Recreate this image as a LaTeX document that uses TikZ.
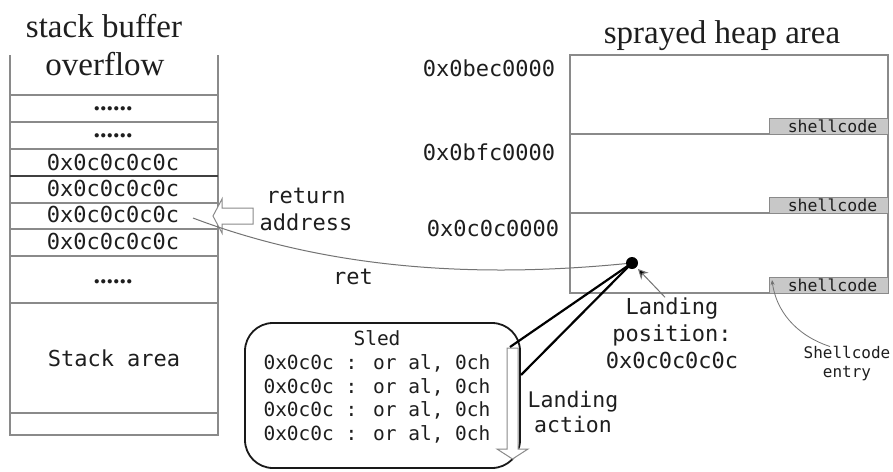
\documentclass[tikz,border=0pt]{standalone}
\usepackage{fontspec}
\setmainfont{Liberation Serif}
\newfontfamily\codefont{DejaVu Sans Mono}
\usetikzlibrary{arrows.meta}
\definecolor{ink}{HTML}{1E1E1E}
\definecolor{rule}{HTML}{8A8A8A}
\definecolor{codebg}{HTML}{C8C8C8}
\begin{document}
\begin{tikzpicture}[x=1pt,y=-1pt,
  every node/.style={inner sep=0pt, text=ink},
  titletext/.style={font=\fontsize{33}{38}\selectfont, anchor=base},
  dots/.style={font=\bfseries\fontsize{26}{30}\selectfont, anchor=base},
  mono/.style={font=\codefont\fontsize{22}{27}\selectfont, align=center},
  sledtext/.style={font=\codefont\fontsize{19.5}{23.7}\selectfont, align=center},
  smallmono/.style={font=\codefont\fontsize{16.5}{19}\selectfont, align=center},
  cell/.style={draw=rule, line width=1.1pt},
  hollow/.style={draw=rule, fill=white, line width=1pt, line join=miter},
  shellbox/.style={draw=rule, fill=codebg, line width=1pt, minimum width=119pt,
    minimum height=16pt, anchor=north west, smallmono},
  pointer/.style={draw=black, line width=2.2pt},
  thinlink/.style={draw=black!55, line width=1pt},
]
\useasboundingbox (0,0) rectangle (893,471);
\fill[white] (0,0) rectangle (893,471);

% ---------------- stack column ----------------
\node[titletext] (stitle1) at (104,37) {stack buffer};
\node[titletext] (stitle2) at (105,75) {overflow};
\draw[cell] (10,55) -- (10,435) -- (218,435) -- (218,55);
\foreach \y in {95,122,149,203,229,256,303,413} \draw[cell] (10,\y) -- (218,\y);
\draw[cell, draw=black!75, line width=1.4pt] (10,176) -- (218,176);

\node[dots] (row1) at (113,110) {......};
\node[dots] (row2) at (113,137) {......};
\node[mono] (row3) at (113,162) {0x0c0c0c0c};
\node[mono] (row4) at (113,188) {0x0c0c0c0c};
\node[mono] (row5) at (113,214) {0x0c0c0c0c};
\node[mono] (row6) at (113,241) {0x0c0c0c0c};
\node[dots] (row7) at (113,283) {......};
\node[mono] (stackarea) at (114,358) {Stack area};

% return address marker
\draw[hollow] (253,208) -- (222,208) -- (222,199) -- (213,216) -- (222,233)
  -- (222,224) -- (253,224) -- cycle;
\node[mono] (retaddr) at (306,209) {return\\address};
\node[mono] (retlabel) at (353,277) {ret};

% ---------------- sprayed heap ----------------
\node[titletext] (htitle) at (722,43) {sprayed heap area};
\draw[cell] (570,55) rectangle (888,293);
\draw[cell] (570,134) -- (888,134);
\draw[cell] (570,213) -- (888,213);
\node[shellbox] (sc1) at (769,118) {\hspace*{7pt}shellcode};
\node[shellbox] (sc2) at (769,197) {\hspace*{7pt}shellcode};
\node[shellbox] (sc3) at (769,277) {\hspace*{7pt}shellcode};

\node[mono] (addr1) at (489,68) {0x0bec0000};
\node[mono] (addr2) at (489,152) {0x0bfc0000};
\node[mono] (addr3) at (493,228) {0x0c0c0000};

% landing point and the return jump
\node[circle, fill=black, minimum size=12pt] (landdot) at (632,263) {};
\coordinate (retstart) at (193,218);
\draw[thinlink] (retstart) .. controls (343,275) and (500,276) .. (landdot);

\node[mono] (landpos) at (672,333) {Landing\\position:\\0x0c0c0c0c};
\draw[thinlink, -{Stealth[length=10pt, width=10pt, fill=black]}]
  ([xshift=-7pt]landpos.north) -- ([shift={(6,6)}]landdot.center);

\node[smallmono, font=\codefont\fontsize{16}{19}\selectfont] (entry) at (847,364) {Shellcode\\entry};
\coordinate (entrytip) at ([shift={(3,3)}]sc3.north west);
\draw[thinlink, line width=0.8pt, -{Stealth[length=5pt, width=4pt, fill=black]}]
  ([xshift=-17pt]entry.north) .. controls (795,335) and (776,310) .. (entrytip);

% ---------------- sled callout ----------------
\draw[draw=black!90, line width=1.8pt, rounded corners=28pt] (245,323) rectangle (520,468);
\node[sledtext] (sled) at (377,387)
  {Sled\\0x0c0c : or al, 0ch\\0x0c0c : or al, 0ch\\0x0c0c : or al, 0ch\\0x0c0c : or al, 0ch};

% landing action marker
\draw[hollow] (507,348) -- (518,348) -- (518,449) -- (528,449) -- (512.5,459)
  -- (497,449) -- (507,449) -- cycle;
\node[mono, font=\codefont\fontsize{21.5}{25}\selectfont] (landact) at (573,412) {Landing\\action};

% callout pointer
\coordinate (tail1) at (510,347);
\coordinate (tail2) at (521,375);
\draw[pointer] (tail1) -- (landdot.center);
\draw[pointer] (tail2) -- (landdot.center);
\end{tikzpicture}
\end{document}
